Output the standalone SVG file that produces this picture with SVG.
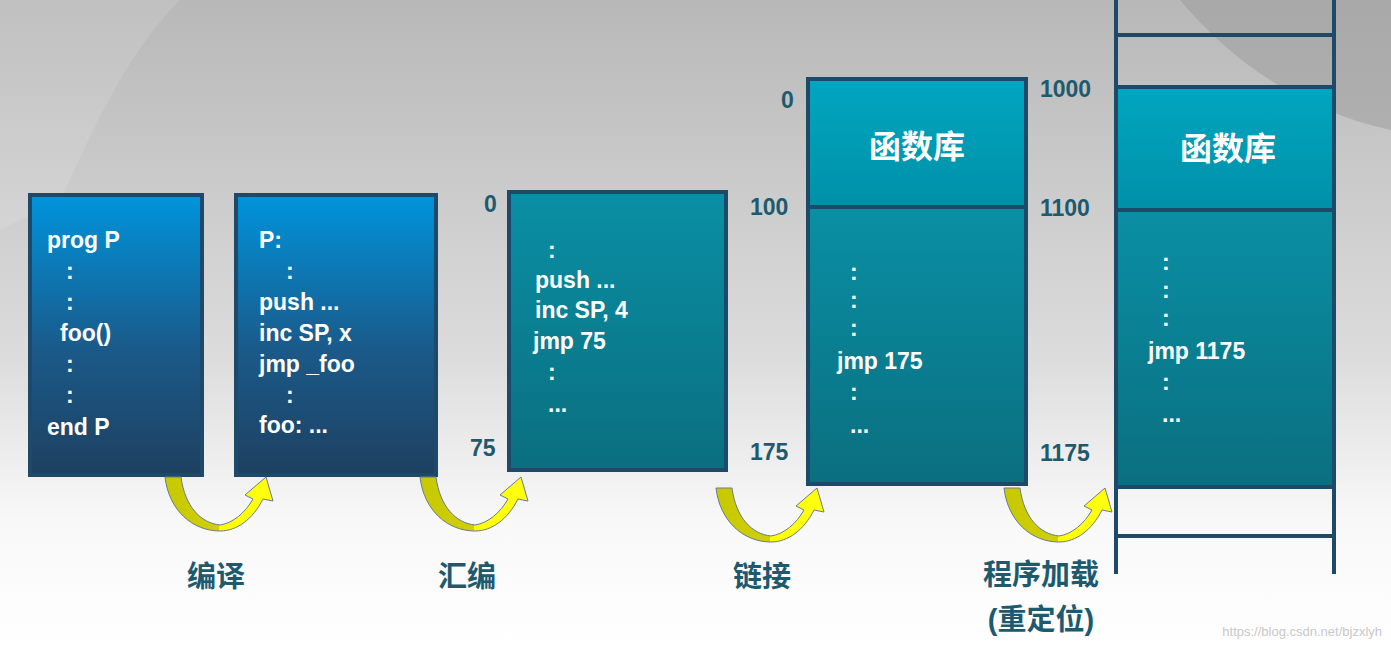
<svg xmlns="http://www.w3.org/2000/svg" width="1391" height="649" viewBox="0 0 1391 649">
<defs>
<linearGradient id="bg" x1="0" y1="0" x2="0" y2="1"><stop offset="0" stop-color="#b8b8b8"/><stop offset="0.55" stop-color="#dcdcdc"/><stop offset="0.8" stop-color="#f8f8f8"/><stop offset="1" stop-color="#ffffff"/></linearGradient>
<linearGradient id="blue" x1="0" y1="0" x2="0" y2="1"><stop offset="0" stop-color="#0094dc"/><stop offset="0.55" stop-color="#1a5a8a"/><stop offset="1" stop-color="#1e4060"/></linearGradient>
<linearGradient id="teal" x1="0" y1="0" x2="0" y2="1"><stop offset="0" stop-color="#0a8fa4"/><stop offset="1" stop-color="#0a6f80"/></linearGradient>
<linearGradient id="lib" x1="0" y1="0" x2="0" y2="1"><stop offset="0" stop-color="#00a6c0"/><stop offset="1" stop-color="#0090a8"/></linearGradient>
<linearGradient id="yel" x1="0" y1="0" x2="1" y2="0"><stop offset="0" stop-color="#c8c800"/><stop offset="0.5" stop-color="#d0d000"/><stop offset="0.5" stop-color="#ffff00"/><stop offset="1" stop-color="#ffff10"/></linearGradient>
<path id="arr" d="M0,0 L16,0 C20,30 36,46 55,48 C68,46 80,36 88,22 L80,18 L101,0 L108,24 L98,22 C88,42 72,54 55,54 C28,54 4,34 0,0 Z" fill="url(#yel)" stroke="#6a7a90" stroke-width="1"/>
</defs>
<style>
.t{font-family:"Liberation Sans",Arial,sans-serif;font-weight:bold;font-size:23px;fill:#fff}
.n{font-family:"Liberation Sans",Arial,sans-serif;font-weight:bold;font-size:23px;fill:#1e5a6e}
.c{font-family:"Liberation Sans","Noto Sans CJK SC",sans-serif;font-weight:bold;font-size:29px;fill:#1e5a6e}
.w{font-family:"Liberation Sans","Noto Sans CJK SC",sans-serif;font-weight:bold;font-size:32px;fill:#fff}
.b{stroke:#1e4a6a;stroke-width:4}
</style>
<rect width="1391" height="649" fill="url(#bg)"/>
<path d="M0,0 L180,0 C120,60 90,140 60,200 L0,230 Z" fill="#ffffff" opacity="0.12"/>
<path d="M1180,0 L1391,0 L1391,130 C1300,110 1230,60 1180,0 Z" fill="#9a9a9a" opacity="0.5"/>
<g id="box1"><rect x="30" y="195" width="172" height="280" fill="url(#blue)" class="b"/>
<text class="t" x="47" y="248">prog P</text><text class="t" x="66" y="279">:</text><text class="t" x="66" y="310">:</text><text class="t" x="60" y="341">foo()</text><text class="t" x="66" y="372">:</text><text class="t" x="66" y="403">:</text><text class="t" x="47" y="435">end P</text></g>
<g id="box2"><rect x="236" y="195" width="200" height="280" fill="url(#blue)" class="b"/>
<text class="t" x="259" y="248">P:</text><text class="t" x="286" y="279">:</text><text class="t" x="259" y="310">push ...</text><text class="t" x="259" y="341">inc SP, x</text><text class="t" x="259" y="372">jmp _foo</text><text class="t" x="286" y="403">:</text><text class="t" x="259" y="433">foo: ...</text></g>
<g id="box3"><rect x="509" y="192" width="217" height="278" fill="url(#teal)" class="b"/>
<text class="n" x="484" y="212">0</text><text class="n" x="470" y="456">75</text>
<text class="t" x="548" y="258">:</text><text class="t" x="535" y="288">push ...</text><text class="t" x="535" y="318">inc SP, 4</text><text class="t" x="533" y="349">jmp 75</text><text class="t" x="548" y="380">:</text><text class="t" x="548" y="412">...</text></g>
<g id="box4"><rect x="808" y="79" width="218" height="128" fill="url(#lib)" class="b"/><rect x="808" y="207" width="218" height="277" fill="url(#teal)" class="b"/>
<text class="w" x="917" y="158" text-anchor="middle">函数库</text>
<text class="n" x="781" y="108">0</text><text class="n" x="750" y="215">100</text><text class="n" x="750" y="460">175</text>
<text class="t" x="850" y="280">:</text><text class="t" x="850" y="308">:</text><text class="t" x="850" y="336">:</text><text class="t" x="837" y="369">jmp 175</text><text class="t" x="850" y="400">:</text><text class="t" x="850" y="433">...</text></g>
<g id="memory"><rect x="1118" y="87" width="215" height="123" fill="url(#lib)"/><rect x="1118" y="210" width="215" height="277" fill="url(#teal)"/>
<path class="b" fill="none" d="M1116,0 V574 M1334,0 V574 M1116,35 H1334 M1116,87 H1334 M1116,210 H1334 M1116,487 H1334 M1116,536 H1334"/>
<text class="w" x="1228" y="160" text-anchor="middle">函数库</text>
<text class="n" x="1040" y="97">1000</text><text class="n" x="1040" y="216">1100</text><text class="n" x="1040" y="461">1175</text>
<text class="t" x="1162" y="270">:</text><text class="t" x="1162" y="298">:</text><text class="t" x="1162" y="326">:</text><text class="t" x="1148" y="359">jmp 1175</text><text class="t" x="1162" y="390">:</text><text class="t" x="1162" y="422">...</text></g>
<g id="connectors">
<use href="#arr" x="165" y="477"/><use href="#arr" x="420" y="477"/><use href="#arr" x="716" y="488"/><use href="#arr" x="1004" y="488"/>
</g>
<g id="labels">
<text class="c" x="216" y="587" text-anchor="middle">编译</text>
<text class="c" x="467" y="587" text-anchor="middle">汇编</text>
<text class="c" x="762" y="587" text-anchor="middle">链接</text>
<text class="c" x="1041" y="585" text-anchor="middle">程序加载</text>
<text class="c" x="1041" y="630" text-anchor="middle">(重定位)</text>
</g>
<text x="1382" y="636" text-anchor="end" style="font-family:'Liberation Sans',sans-serif;font-size:13px;fill:#c8c8c8">https://blog.csdn.net/bjzxlyh</text>
</svg>
